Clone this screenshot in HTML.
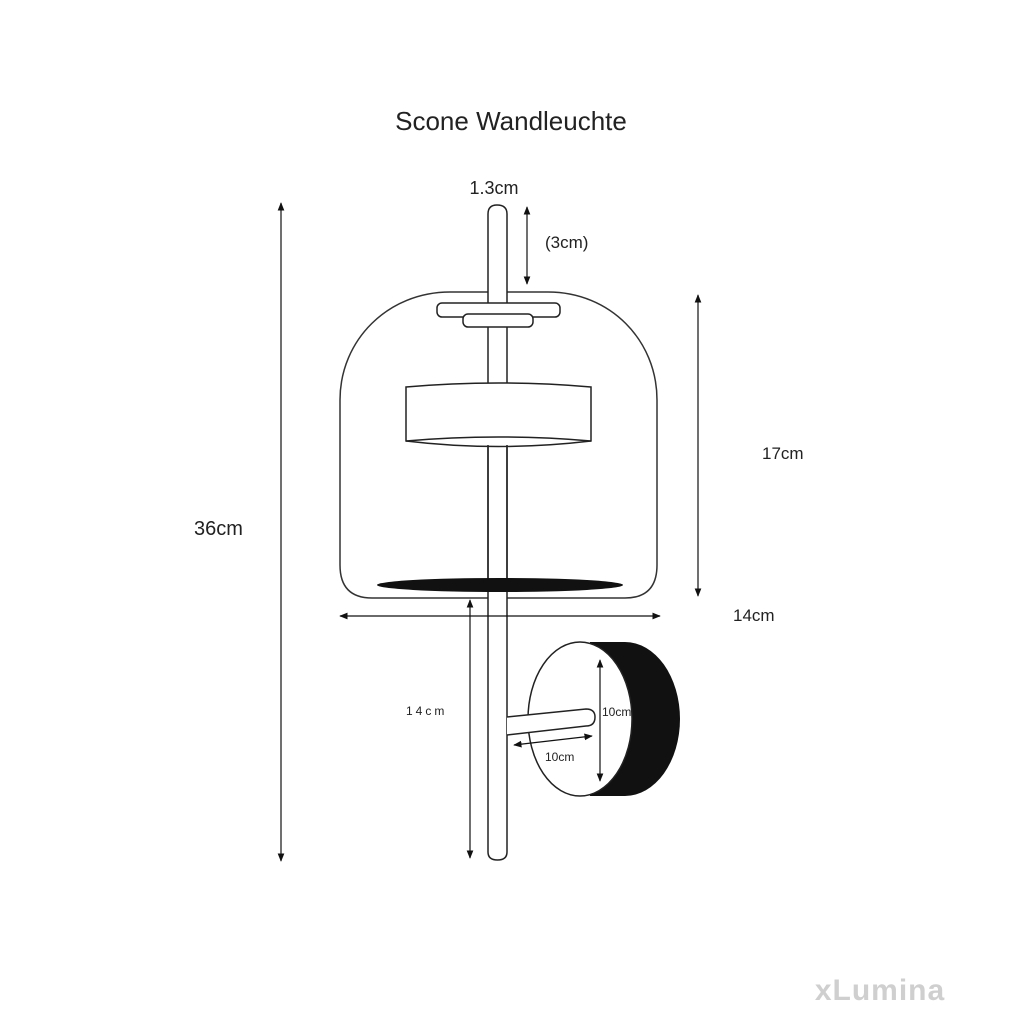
<!DOCTYPE html>
<html><head><style>
html,body{margin:0;padding:0;background:#fff;}
svg{display:block;}
text{font-family:"Liberation Sans",sans-serif;fill:#222;}
</style></head><body>
<svg width="1024" height="1024" viewBox="0 0 1024 1024" xmlns="http://www.w3.org/2000/svg">
<defs>
<marker id="a" viewBox="0 0 10 10" refX="9" refY="5" markerWidth="7" markerHeight="7" orient="auto-start-reverse"><path d="M0,1 L10,5 L0,9 z" fill="#111"/></marker>
</defs>
<text x="511" y="130" font-size="26" text-anchor="middle">Scone Wandleuchte</text>
<text x="494" y="194" font-size="18" text-anchor="middle">1.3cm</text>
<text x="545" y="248" font-size="17">(3cm)</text>
<text x="194" y="535" font-size="20">36cm</text>
<text x="762" y="459" font-size="17">17cm</text>
<text x="733" y="621" font-size="17">14cm</text>
<text x="406" y="715" font-size="12" letter-spacing="3">14cm</text>
<text x="880" y="1000" font-size="30" font-weight="bold" style="fill:#cfcfcf" text-anchor="middle" letter-spacing="1">xLumina</text>

<g fill="none" stroke="#222" stroke-width="1.5">
<path d="M450,292 L548,292 C610,292 657,340 657,400 L657,565 Q657,598 625,598 L372,598 Q340,598 340,565 L340,400 C340,340 388,292 450,292 Z" stroke="#333"/>
<path d="M488,852 L488,214 Q488,205 497,205 Q507,205 507,214 L507,852 Q507,860 497.5,860 Q488,860 488,852 Z" fill="#fff"/>
<rect x="437" y="303" width="123" height="14" rx="5" fill="#fff"/>
<rect x="463" y="314" width="70" height="13" rx="5" fill="#fff"/>
<path d="M406,387 Q498,379 591,387 L591,441 Q498,452 406,441 Z" fill="#fff"/>
<path d="M406,441 Q498,433 591,441"/>
<line x1="488" y1="445" x2="488" y2="580"/><line x1="507" y1="445" x2="507" y2="580"/>
</g>
<ellipse cx="500" cy="585" rx="123" ry="7" fill="#111"/>
<path d="M590,642 L625,642 A55,77 0 0 1 625,796 L590,796 Z" fill="#111"/>
<ellipse cx="580" cy="719" rx="52" ry="77" fill="#fff" stroke="#222" stroke-width="1.5"/>
<path d="M507,717 L586,709 Q595,709 595,717 Q595,726 586,726 L507,735" fill="#fff" stroke="#222" stroke-width="1.5"/>
<g stroke="#111" stroke-width="1.2" marker-start="url(#a)" marker-end="url(#a)">
<line x1="281" y1="203" x2="281" y2="861"/>
<line x1="527" y1="207" x2="527" y2="284"/>
<line x1="698" y1="295" x2="698" y2="596"/>
<line x1="340" y1="616" x2="660" y2="616"/>
<line x1="470" y1="600" x2="470" y2="858"/>
<line x1="600" y1="660" x2="600" y2="781"/>
<line x1="514" y1="745" x2="592" y2="736"/>
</g>
<text x="602" y="716" font-size="12">10cm</text>
<text x="545" y="761" font-size="12">10cm</text>
</svg>
</body></html>
